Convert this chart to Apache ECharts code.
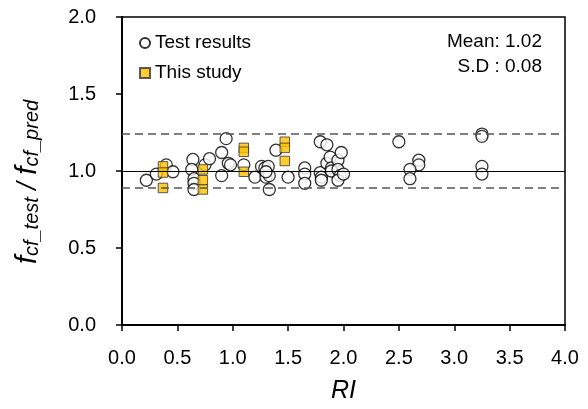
<!DOCTYPE html>
<html>
<head>
<meta charset="utf-8">
<script src="https://cdn.jsdelivr.net/npm/echarts@6/dist/echarts.min.js"></script>
<style>html,body{margin:0;padding:0;background:#fff}#c{width:588px;height:409px}</style>
</head>
<body>
<div id="c"></div>
<script>
// Test results (RI, f_cf_test / f_cf_pred)
var testX = [0.22,0.31,0.40,0.46,0.64,0.63,0.65,0.65,0.65,0.75,0.79,0.90,0.94,0.90,0.96,0.98,1.10,1.20,1.26,1.29,1.32,1.30,1.33,1.30,1.33,1.39,1.50,1.65,1.65,1.65,1.79,1.85,1.79,1.80,1.80,1.85,1.88,1.89,1.89,1.95,1.98,1.95,1.97,1.95,2.00,2.50,2.68,2.68,2.60,2.60,3.25,3.25,3.25,3.25];
var testY = [0.94,0.98,1.04,0.995,1.075,1.01,0.95,0.92,0.88,1.04,1.08,1.12,1.21,0.97,1.05,1.04,1.04,0.96,1.03,1.02,1.03,0.96,0.97,0.995,0.88,1.135,0.96,1.02,0.98,0.92,1.19,1.17,0.99,0.96,0.94,1.05,1.09,1.02,1.00,1.07,1.12,1.01,0.97,0.94,0.98,1.19,1.07,1.04,1.01,0.95,1.24,1.225,1.03,0.98];
// This study
var studyX = [0.37,0.37,0.37,0.73,0.73,0.73,1.10,1.10,1.10,1.47,1.47,1.47];
var studyY = [1.03,0.99,0.89,1.01,0.94,0.88,1.15,1.125,0.995,1.19,1.15,1.065];
// reference lines
var meanLine = 1.0;
var upperLine = 1.24;
var lowerLine = 0.89;
var xTicks = [0,0.5,1,1.5,2,2.5,3,3.5,4];
var yTicks = [0,0.5,1,1.5,2];
var statsText = ['Mean: 1.02', 'S.D : 0.08'];

function pairs(xs, ys){ return xs.map(function(x,i){ return [x, ys[i]]; }); }
var FONT = 'Arial, "Liberation Sans", sans-serif';

var chart = echarts.init(document.getElementById('c'), null, {renderer:'canvas'});
chart.setOption({
  animation:false,
  backgroundColor:'#fff',
  grid:{left:122, right:23, top:17, bottom:79, show:true, borderColor:'#000', borderWidth:1.5, backgroundColor:'transparent'},
  xAxis:{
    type:'value', min:xTicks[0], max:xTicks[xTicks.length-1], interval:0.5,
    axisLine:{show:true, onZero:false, lineStyle:{color:'#000', width:2}},
    axisTick:{show:true, inside:false, length:6, lineStyle:{color:'#000', width:1.5}},
    splitLine:{show:false},
    axisLabel:{color:'#000', fontSize:20, fontFamily:FONT, margin:23, formatter:function(v){return v.toFixed(1);}},
    name:'RI', nameLocation:'middle', nameGap:54,
    nameTextStyle:{color:'#000', fontSize:25, fontStyle:'italic', fontFamily:FONT}
  },
  yAxis:{
    type:'value', min:yTicks[0], max:yTicks[yTicks.length-1], interval:0.5,
    axisLine:{show:true, onZero:false, lineStyle:{color:'#000', width:2}},
    axisTick:{show:true, inside:false, length:6, lineStyle:{color:'#000', width:1.5}},
    splitLine:{show:false},
    axisLabel:{color:'#000', fontSize:20, fontFamily:FONT, margin:26, formatter:function(v){return v.toFixed(1);}},
    name:'{f|f}{s|cf_test}{n| / }{f|f}{s|cf_pred}', nameLocation:'middle', nameRotate:90, nameGap:80,
    nameTextStyle:{
      color:'#000', fontFamily:FONT, padding:[0,22,0,0],
      rich:{
        f:{fontSize:29, fontStyle:'italic', fontFamily:FONT, color:'#000', lineHeight:30, verticalAlign:'bottom'},
        s:{fontSize:20, fontStyle:'italic', fontFamily:FONT, color:'#000', lineHeight:12, verticalAlign:'bottom'},
        n:{fontSize:27, fontStyle:'italic', fontFamily:FONT, color:'#000', lineHeight:30, verticalAlign:'bottom'}
      }
    }
  },
  legend:{
    orient:'vertical', left:134, top:28, itemWidth:10, itemHeight:10, itemGap:10,
    textStyle:{color:'#000', fontSize:19, fontFamily:FONT, lineHeight:20},
    data:[{name:'Test results', icon:'circle'},{name:'This study', icon:'rect'}]
  },
  graphic:[
    {type:'text', right:46, top:32, style:{text:statsText[0], fill:'#000', font:'19px '+FONT, textAlign:'right'}},
    {type:'text', right:46, top:57, style:{text:statsText[1], fill:'#000', font:'19px '+FONT, textAlign:'right'}}
  ],
  series:[
    {
      name:'Test results', type:'scatter', symbol:'circle', symbolSize:12,
      itemStyle:{color:'#fff', borderColor:'#000', borderWidth:1.3},
      data:pairs(testX,testY),
      markLine:{
        silent:true, symbol:'none', label:{show:false},
        data:[
          {yAxis:meanLine, lineStyle:{color:'#000', width:1, type:'solid'}},
          {yAxis:upperLine, lineStyle:{color:'#555', width:1.5, type:[8,5]}},
          {yAxis:lowerLine, lineStyle:{color:'#555', width:1.5, type:[8,5]}}
        ]
      },
      z:3
    },
    {
      name:'This study', type:'scatter', symbol:'rect', symbolSize:9.5,
      itemStyle:{color:'#FFC000', borderColor:'#333', borderWidth:1},
      data:pairs(studyX,studyY),
      z:4
    }
  ]
});
</script>
</body>
</html>
